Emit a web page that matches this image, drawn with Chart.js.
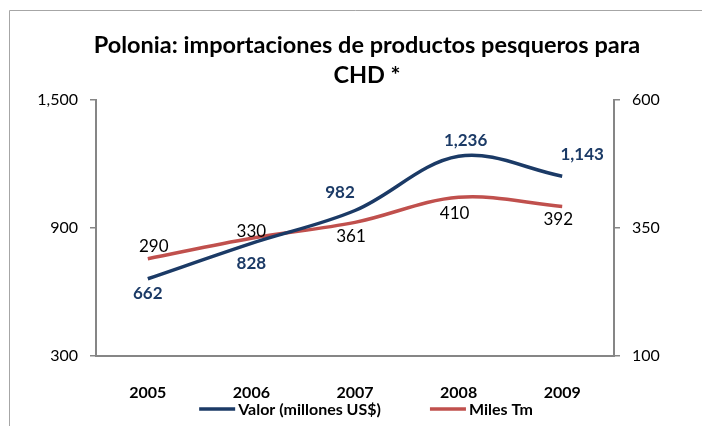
<!DOCTYPE html>
<html lang="es">
<head>
  <meta charset="UTF-8">
  <title>Polonia: importaciones de productos pesqueros para CHD</title>
  <style>
    html, body { margin: 0; padding: 0; background: #ffffff; }
    .chart-box { position: relative; width: 702px; height: 426px; }
  </style>
</head>
<body>
  <div class="chart-box">
    <canvas id="chart" width="702" height="426"></canvas>
  </div>

  <script src="https://cdn.jsdelivr.net/npm/chart.js"></script>
  <script>
    // Data
    const years = ['2005', '2006', '2007', '2008', '2009'];
    const valor = [662, 828, 982, 1236, 1143];   // millones US$
    const miles = [290, 330, 361, 410, 392];     // miles Tm
    const leftTicks = [300, 900, 1500];
    const rightTicks = [100, 350, 600];
    const titleLines = ['Polonia: importaciones de productos pesqueros para', 'CHD *'];

    const BLUE = '#1B3A66';
    const RED = '#C0504D';
    const FONT = "Lato, 'Liberation Sans', Arial, sans-serif";

    // label offsets (dx, dy) from each point, per dataset
    const labelOffsets = [
      [[0, 15], [0, 20], [-15, -18], [7, -16], [20, -22]],
      [[6, -12], [0, -7], [-4, 14], [-4, 16], [-4, 13]]
    ];

    const fmt = v => v.toLocaleString('en-US');

    // outer frame (only top and left edges are inside the picture) + title.
    // The original chart object runs past the right edge, so its title is centred a bit right.
    const framePlugin = {
      id: 'frame',
      beforeDraw(chart) {
        const c = chart.ctx;
        c.save();
        c.strokeStyle = '#A6A6A6';
        c.lineWidth = 1;
        c.beginPath();
        c.moveTo(9.5, chart.height);
        c.lineTo(9.5, 10.5);
        c.lineTo(chart.width, 10.5);
        c.stroke();

        c.font = 'bold 23.5px ' + FONT;
        c.fillStyle = '#000000';
        c.textAlign = 'center';
        c.textBaseline = 'middle';
        titleLines.forEach((t, k) => c.fillText(t, 367, 45 + k * 30));
        c.restore();
      }
    };

    // value labels next to the points
    const valueLabels = {
      id: 'valueLabels',
      afterDatasetsDraw(chart) {
        const c = chart.ctx;
        c.save();
        c.textAlign = 'center';
        c.textBaseline = 'middle';
        chart.data.datasets.forEach((ds, i) => {
          const meta = chart.getDatasetMeta(i);
          c.font = (i === 0 ? 'bold ' : '') + '17px ' + FONT;
          c.fillStyle = i === 0 ? BLUE : '#000000';
          meta.data.forEach((pt, j) => {
            const off = labelOffsets[i][j];
            c.fillText(fmt(ds.data[j]), pt.x + off[0], pt.y + off[1]);
          });
        });
        c.restore();
      }
    };

    // legend with long line samples, like the original
    const lineLegend = {
      id: 'lineLegend',
      afterDraw(chart) {
        const c = chart.ctx;
        const y = 409, lineW = 36, gap = 3, itemGap = 49;
        c.save();
        c.font = 'bold 16px ' + FONT;
        c.textBaseline = 'middle';
        const items = chart.data.datasets.map(ds => ({ text: ds.label, color: ds.borderColor }));
        let total = 0;
        items.forEach((it, k) => {
          it.w = c.measureText(it.text).width;
          total += lineW + gap + it.w + (k < items.length - 1 ? itemGap : 0);
        });
        let x = 366 - total / 2;
        items.forEach(it => {
          c.strokeStyle = it.color;
          c.lineWidth = 3.5;
          c.beginPath();
          c.moveTo(x, y);
          c.lineTo(x + lineW, y);
          c.stroke();
          c.fillStyle = '#000000';
          c.fillText(it.text, x + lineW + gap, y + 1);
          x += lineW + gap + it.w + itemGap;
        });
        c.restore();
      }
    };

    const axisGrid = {
      display: true,
      drawOnChartArea: false,
      drawTicks: true,
      tickLength: 6,
      color: '#868686',
      lineWidth: 1.5
    };

    new Chart(document.getElementById('chart'), {
      type: 'line',
      data: {
        labels: years,
        datasets: [
          {
            label: 'Valor (millones US$)',
            data: valor,
            yAxisID: 'y',
            borderColor: BLUE,
            backgroundColor: BLUE,
            borderWidth: 3.5,
            pointRadius: 0,
            tension: 0.35,
            fill: false
          },
          {
            label: 'Miles Tm',
            data: miles,
            yAxisID: 'y1',
            borderColor: RED,
            backgroundColor: RED,
            borderWidth: 3.5,
            pointRadius: 0,
            tension: 0.35,
            fill: false
          }
        ]
      },
      options: {
        responsive: false,
        animation: false,
        devicePixelRatio: 1,
        layout: { padding: { top: 100 } },
        plugins: {
          legend: { display: false },
          tooltip: { enabled: false },
          title: { display: false }
        },
        scales: {
          x: {
            offset: true,
            grid: { display: false },
            border: { display: true, color: '#868686', width: 2 },
            ticks: {
              color: '#000000',
              padding: 19,
              font: { family: FONT, size: 16, weight: 'bold' }
            },
            afterFit(scale) { scale.height = 70; }
          },
          y: {
            position: 'left',
            min: 300,
            max: 1500,
            grid: axisGrid,
            border: { display: true, color: '#868686', width: 2 },
            ticks: {
              color: '#000000',
              padding: 12,
              font: { family: FONT, size: 16 },
              callback: v => fmt(v)
            },
            afterBuildTicks(scale) { scale.ticks = leftTicks.map(v => ({ value: v })); },
            afterFit(scale) { scale.width = 96; }
          },
          y1: {
            position: 'right',
            min: 100,
            max: 600,
            grid: axisGrid,
            border: { display: true, color: '#868686', width: 2 },
            ticks: {
              color: '#000000',
              padding: 12,
              font: { family: FONT, size: 16 },
              callback: v => fmt(v)
            },
            afterBuildTicks(scale) { scale.ticks = rightTicks.map(v => ({ value: v })); },
            afterFit(scale) { scale.width = 88; }
          }
        }
      },
      plugins: [framePlugin, valueLabels, lineLegend]
    });
  </script>
</body>
</html>
